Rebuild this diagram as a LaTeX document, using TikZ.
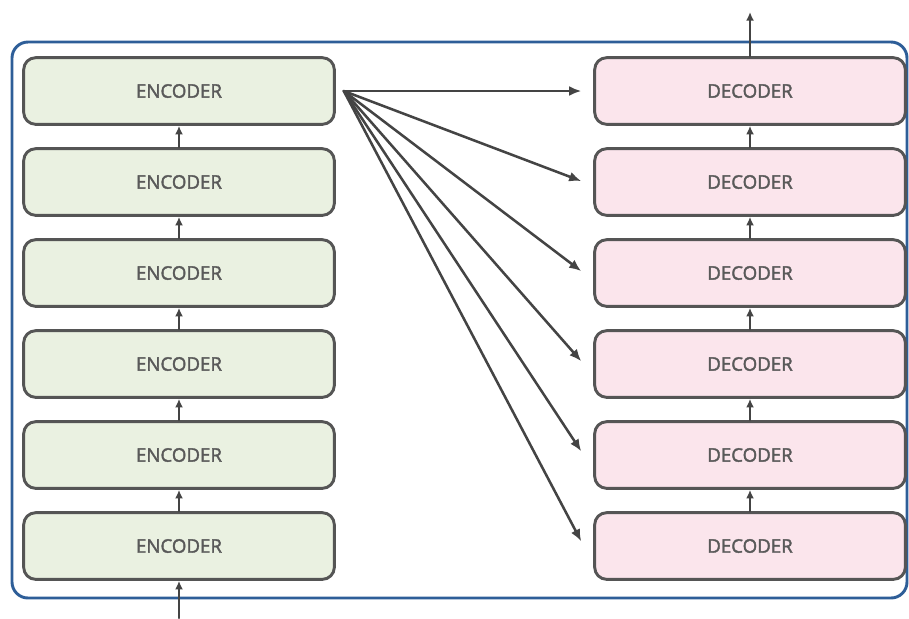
\documentclass[tikz,border=0pt]{standalone}
\usepackage{fontspec}
\newfontfamily\boxfont[FakeBold=2]{Open Sans}
\usetikzlibrary{arrows.meta}
\definecolor{encfill}{HTML}{EAF1E1}
\definecolor{decfill}{HTML}{FBE5EC}
\definecolor{boxline}{HTML}{555555}
\definecolor{txtgray}{HTML}{595959}
\definecolor{arrgray}{HTML}{444444}
\definecolor{outerblue}{HTML}{2E5E98}
\begin{document}
\begin{tikzpicture}[x=0.75pt, y=-0.75pt, line join=round, line cap=round,
  >={Latex[length=9pt,width=7.5pt]},
  block/.style={draw=boxline, line width=2.2pt, rounded corners=9pt,
    minimum width=233pt, minimum height=50pt, inner sep=0pt,
    font=\boxfont\fontsize{14}{16}\selectfont, text=txtgray},
  enc/.style={block, fill=encfill},
  dec/.style={block, fill=decfill},
  flow/.style={->, draw=arrgray, line width=1.9pt},
  short/.style={flow, >={Latex[length=6.5pt,width=6pt]}}]
\useasboundingbox (0,0) rectangle (909,618);
% Khung ngoài
\draw[outerblue, line width=2.2pt, rounded corners=12pt] (12,42) rectangle (907,598);
% Các khối encoder và decoder
\foreach \i in {1,...,6} {
  \node[enc] (enc\i) at (179, {91+91*(\i-1)}) {ENCODER};
  \node[dec] (dec\i) at (750, {91+91*(\i-1)}) {DECODER};
}
% Mũi tên giữa các khối
\foreach \i [evaluate=\i as \j using int(\i+1)] in {1,...,5} {
  \draw[short] (enc\j.north) -- (enc\i.south);
  \draw[short] (dec\j.north) -- (dec\i.south);
}
% Đầu vào và đầu ra
\coordinate (in) at (179,618);
\coordinate (out) at (750,12);
\draw[short] (in) -- (enc6.south);
\draw[short] (dec1.north) -- (out);
% Encoder cuối nối tới mọi decoder
\coordinate (src) at ([xshift=6pt]enc1.east);
\foreach \i in {1,...,6}
  \draw[flow] (src) -- ([xshift=-9pt, yshift={(\i-1)*0.7pt}]dec\i.west);
\end{tikzpicture}
\end{document}
